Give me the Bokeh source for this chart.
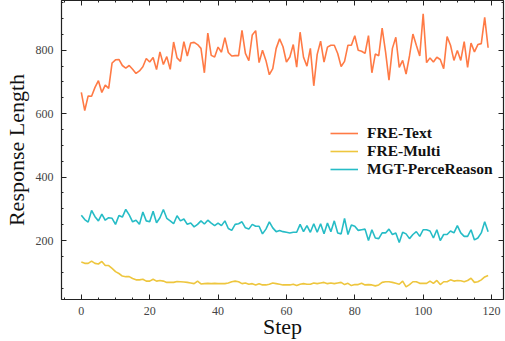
from bokeh.plotting import figure
from bokeh.models import (LinearAxis, SingleIntervalTicker, Range1d, Legend, LegendItem,
                          CustomJSTickFormatter)
from bokeh.embed import file_html
from bokeh.resources import INLINE

steps = list(range(120))

fre_text = [667, 610, 656, 655, 683, 704, 667, 690, 680, 760,
            770, 771, 752, 744, 752, 740, 727, 735, 748, 774,
            763, 777, 739, 795, 755, 780, 740, 826, 776, 765,
            827, 782, 823, 825, 818, 806, 729, 854, 784, 779,
            810, 794, 840, 793, 782, 783, 783, 863, 790, 767,
            848, 862, 761, 800, 768, 723, 742, 806, 836, 811,
            763, 779, 818, 747, 857, 778, 750, 806, 688, 787,
            829, 763, 810, 816, 816, 790, 749, 765, 816, 816,
            846, 800, 797, 790, 846, 729, 788, 783, 870, 795,
            706, 806, 841, 746, 768, 725, 782, 851, 816, 782,
            915, 761, 776, 763, 778, 771, 742, 843, 816, 768,
            799, 768, 827, 746, 823, 795, 818, 821, 904, 808]

fre_multi = [132, 128, 128, 135, 128, 126, 134, 121, 121, 112,
             102, 96, 88, 86, 86, 80, 76, 76, 78, 72,
             72, 78, 72, 74, 72, 68, 68, 68, 71, 70,
             69, 68, 66, 64, 72, 63, 64, 65, 64, 65,
             64, 64, 64, 66, 70, 72, 70, 64, 66, 62,
             64, 60, 64, 60, 60, 62, 66, 64, 62, 60,
             60, 60, 62, 58, 62, 64, 62, 62, 66, 64,
             66, 68, 64, 66, 64, 66, 68, 61, 65, 58,
             61, 61, 65, 60, 61, 60, 57, 60, 68, 70,
             70, 68, 65, 62, 72, 54, 61, 70, 70, 65,
             65, 65, 72, 65, 74, 61, 70, 70, 76, 72,
             74, 73, 70, 74, 81, 68, 70, 76, 85, 90]

mgt_perce = [280, 266, 258, 295, 275, 262, 283, 264, 272, 270,
             251, 279, 274, 298, 281, 259, 264, 251, 290, 262,
             259, 292, 256, 272, 298, 270, 262, 253, 278, 262,
             268, 251, 255, 243, 251, 262, 252, 264, 255, 247,
             255, 247, 262, 238, 232, 251, 253, 259, 240, 236,
             251, 245, 245, 221, 236, 259, 240, 228, 232, 228,
             226, 224, 226, 226, 251, 228, 247, 226, 253, 226,
             253, 221, 255, 228, 262, 224, 221, 270, 219, 249,
             245, 232, 234, 236, 200, 234, 208, 206, 224, 224,
             236, 219, 224, 194, 226, 221, 206, 219, 228, 213,
             234, 234, 230, 208, 234, 200, 219, 219, 230, 224,
             247, 224, 213, 213, 234, 202, 208, 224, 259, 228]

labels = ["FRE-Text", "FRE-Multi", "MGT-PerceReason"]
colors = ["#FF7A45", "#EEC63E", "#26BCC6"]

p = figure(width=505, height=341, output_backend="svg", toolbar_location=None,
           x_range=Range1d(-5.8, 123.5), y_range=Range1d(14, 957),
           min_border_left=0, min_border_right=2, min_border_top=0, min_border_bottom=0)
p.xgrid.visible = False
p.ygrid.visible = False
p.outline_line_color = "#222222"
p.outline_line_width = 1.2
p.background_fill_color = "white"
p.border_fill_color = "white"

serif = "Liberation Serif"

def style_axis(ax, interval, labels_on):
    ax.ticker = SingleIntervalTicker(interval=interval, num_minor_ticks=4)
    ax.major_tick_in = 5
    ax.major_tick_out = 0
    ax.minor_tick_in = 2
    ax.minor_tick_out = 0
    ax.major_tick_line_color = "#222222"
    ax.minor_tick_line_color = "#222222"
    ax.axis_line_color = None
    ax.major_label_text_font = serif
    ax.major_label_text_font_size = "12px"
    ax.major_label_text_color = "#444444"
    ax.axis_label_text_font = serif
    ax.axis_label_text_font_style = "normal"
    ax.axis_label_text_font_size = "22px"
    ax.axis_label_text_color = "#111111"
    if not labels_on:
        ax.formatter = CustomJSTickFormatter(code="return ''")
        ax.major_label_standoff = 0
        ax.major_label_text_font_size = "0px"
        ax.axis_label_standoff = 0

style_axis(p.xaxis[0], 20, True)
style_axis(p.yaxis[0], 200, True)
p.xaxis[0].axis_label = "Step"
p.yaxis[0].axis_label = "Response Length"
p.xaxis[0].major_label_standoff = 7
p.xaxis[0].axis_label_standoff = -4
p.yaxis[0].major_label_standoff = 8
p.yaxis[0].axis_label_standoff = 4

top = LinearAxis()
style_axis(top, 20, False)
p.add_layout(top, "above")
right = LinearAxis()
style_axis(right, 200, False)
p.add_layout(right, "right")

renderers = []
for ys, c in zip([fre_text, fre_multi, mgt_perce], colors):
    r = p.line(steps, ys, line_color=c, line_width=1.6)
    renderers.append(r)

legend = Legend(items=[LegendItem(label=l, renderers=[r]) for l, r in zip(labels, renderers)],
                location=(269, 121))
legend.label_text_font = serif
legend.label_text_font_style = "bold"
legend.label_text_font_size = "15.5px"
legend.label_text_color = "#111111"
legend.glyph_width = 28
legend.glyph_height = 18
legend.label_height = 18
legend.spacing = 0
legend.label_standoff = 9
legend.padding = 0
legend.margin = 0
legend.border_line_color = None
legend.background_fill_alpha = 0
p.add_layout(legend, "center")

open("out.html", "w").write(file_html(p, INLINE))
